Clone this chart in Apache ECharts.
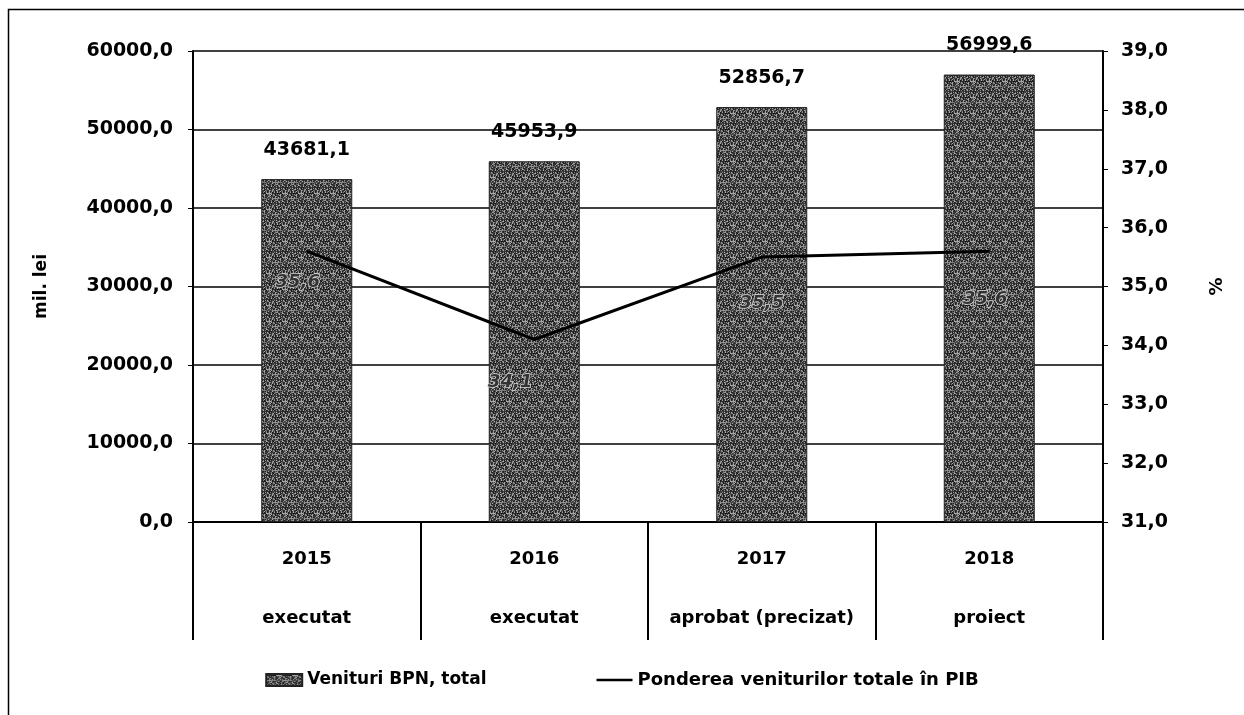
<!DOCTYPE html>
<html>
<head>
<meta charset="utf-8">
<script src="https://cdn.jsdelivr.net/npm/echarts@6/dist/echarts.min.js"></script>
<style>
  html, body { margin: 0; padding: 0; background: #fff; }
  #main { width: 1244px; height: 715px; }
</style>
</head>
<body>
<div id="main"></div>
<script>
// date grafic
const years = ["2015", "2016", "2017", "2018"];
const statuses = ["executat", "executat", "aprobat (precizat)", "proiect"];
const venituri = [43681.1, 45953.9, 52856.7, 56999.6];
const ponderea = [35.6, 34.1, 35.5, 35.6];
const leftTicks = { min: 0, max: 60000, interval: 10000 };
const rightTicks = { min: 31, max: 39, interval: 1 };

// deplasarea etichetelor liniei (doar stil)
const lineLabelOffsets = [[-9, 0], [-24, 12], [0, 15], [-4, 17]];

const FONT = "DejaVu Sans";

function fmt(v) {
  return Number(v).toFixed(1).replace(".", ",");
}

// textura gri "punctata" pentru coloane
function makePattern() {
  const c = document.createElement("canvas");
  c.width = 16;
  c.height = 16;
  const ctx = c.getContext("2d");
  const shades = ["#1a1a1a", "#7e7e7e", "#333", "#a8a8a8", "#4a4a4a", "#262626", "#909090", "#3c3c3c"];
  for (let y = 0; y < 16; y++) {
    for (let x = 0; x < 16; x++) {
      const k = (x * 7 + y * 13 + ((x * y) % 5)) % shades.length;
      ctx.fillStyle = shades[k];
      ctx.fillRect(x, y, 1, 1);
    }
  }
  return c;
}

const chart = echarts.init(document.getElementById("main"));
const option = {
  animation: false,
  backgroundColor: "#fff",
  textStyle: { fontFamily: FONT },
  graphic: [
    {
      type: "rect",
      shape: { x: 8.5, y: 9.5, width: 1260, height: 740 },
      style: { fill: "none", stroke: "#000", lineWidth: 1.5 },
      silent: true,
    },
  ],
  grid: { left: 193, right: 141, top: 51, bottom: 193 },
  legend: {
    bottom: 21,
    left: "center",
    itemGap: 110,
    itemWidth: 36,
    itemHeight: 12,
    textStyle: { fontFamily: FONT, fontSize: 17, fontWeight: "bold", color: "#000" },
    data: [
      { name: "Venituri BPN, total", icon: "rect" },
      {
        name: "Ponderea veniturilor totale în PIB",
        icon: "path://M0,0H40V0.1H0Z M0,5H40V8H0Z M0,12.9H40V13H0Z",
        itemStyle: { color: "#000" },
        textStyle: { fontSize: 18 },
      },
    ],
  },
  xAxis: {
    type: "category",
    data: years.map((y, i) => y + "\n" + statuses[i]),
    axisLine: { lineStyle: { color: "#000", width: 2 } },
    axisTick: { show: true, length: 118, lineStyle: { color: "#000", width: 2 } },
    axisLabel: {
      margin: 8,
      interval: 0,
      color: "#000",
      fontFamily: FONT,
      fontWeight: "bold",
      fontSize: 18,
      lineHeight: 59,
    },
    splitLine: { show: false },
  },
  yAxis: [
    {
      type: "value",
      min: leftTicks.min,
      max: leftTicks.max,
      interval: leftTicks.interval,
      name: "mil. lei",
      nameLocation: "middle",
      nameGap: 143,
      nameTextStyle: { fontFamily: FONT, fontWeight: "bold", fontSize: 17, color: "#000" },
      axisLine: { show: true, lineStyle: { color: "#000", width: 2 } },
      axisTick: { show: true, length: 5, lineStyle: { color: "#000" } },
      axisLabel: {
        margin: 20,
        color: "#000",
        fontFamily: FONT,
        fontWeight: "bold",
        fontSize: 19,
        formatter: fmt,
      },
      splitLine: { show: true, lineStyle: { color: "#000", width: 1.5 } },
    },
    {
      type: "value",
      min: rightTicks.min,
      max: rightTicks.max,
      interval: rightTicks.interval,
      position: "right",
      name: "%",
      nameLocation: "middle",
      nameGap: 105,
      nameTextStyle: { fontFamily: FONT, fontWeight: "bold", fontSize: 18, color: "#000" },
      axisLine: { show: true, lineStyle: { color: "#000", width: 2 } },
      axisTick: { show: true, length: 5, lineStyle: { color: "#000" } },
      axisLabel: {
        margin: 18,
        color: "#000",
        fontFamily: FONT,
        fontWeight: "bold",
        fontSize: 19,
        formatter: fmt,
      },
      splitLine: { show: false },
    },
  ],
  series: [
    {
      name: "Venituri BPN, total",
      type: "bar",
      yAxisIndex: 0,
      data: venituri,
      barWidth: "40%",
      itemStyle: {
        color: { image: makePattern(), repeat: "repeat" },
        borderColor: "#222",
        borderWidth: 1,
      },
      label: {
        show: true,
        position: "top",
        distance: 20,
        color: "#000",
        fontFamily: FONT,
        fontWeight: "bold",
        fontSize: 19,
        formatter: (p) => fmt(p.value),
      },
    },
    {
      name: "Ponderea veniturilor totale în PIB",
      type: "line",
      yAxisIndex: 1,
      data: ponderea.map((v, i) => ({ value: v, label: { offset: lineLabelOffsets[i] } })),
      symbol: "circle",
      symbolSize: 0.1,
      showSymbol: true,
      lineStyle: { color: "#000", width: 3 },
      itemStyle: { color: "#000" },
      label: {
        show: true,
        position: "bottom",
        distance: 22,
        color: "#333",
        textBorderColor: "#d8d8d8",
        textBorderWidth: 1.5,
        fontFamily: FONT,
        fontStyle: "italic",
        fontWeight: "bold",
        fontSize: 18,
        formatter: (p) => fmt(p.value),
      },
      z: 5,
    },
  ],
};
option && chart.setOption(option);
</script>
</body>
</html>
